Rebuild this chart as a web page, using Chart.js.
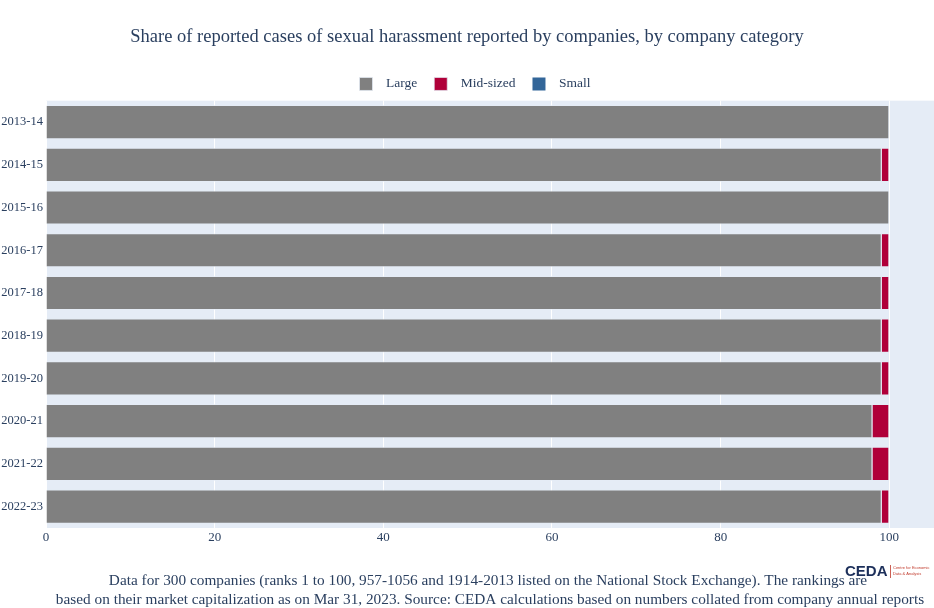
<!DOCTYPE html>
<html>
<head>
<meta charset="utf-8">
<script src="https://cdn.jsdelivr.net/npm/chart.js@4.4.1/dist/chart.umd.min.js"></script>
<style>
html,body{margin:0;padding:0;background:#fff;}
#wrap{position:relative;width:934px;height:608px;}
</style>
</head>
<body>
<div id="wrap"><canvas id="c" width="934" height="608"></canvas></div>
<script>
const categories = ["2013-14","2014-15","2015-16","2016-17","2017-18","2018-19","2019-20","2020-21","2021-22","2022-23"];
const largeShare = [100, 99.1, 100, 99.1, 99.1, 99.1, 99.1, 98.0, 98.0, 99.1];
const midShare   = [0, 0.9, 0, 0.9, 0.9, 0.9, 0.9, 2.0, 2.0, 0.9];
const smallShare = [0, 0, 0, 0, 0, 0, 0, 0, 0, 0];
const xTicks = [0, 20, 40, 60, 80, 100];
const titleText = "Share of reported cases of sexual harassment reported by companies, by company category";
const footerLines = [
  "Data for 300 companies (ranks 1 to 100, 957-1056 and 1914-2013 listed on the National Stock Exchange). The rankings are",
  "based on their market capitalization as on Mar 31, 2023. Source: CEDA calculations based on numbers collated from company annual reports"
];

const FONT = "'Liberation Serif', 'DejaVu Serif', serif";
const TXT = "#2a3f5f";

const bgPlugin = {
  id: 'plotBg',
  beforeDraw(chart) {
    const {ctx, chartArea: a} = chart;
    ctx.save();
    ctx.fillStyle = '#E5ECF6';
    ctx.fillRect(a.left, a.top, a.right - a.left, a.bottom - a.top);
    ctx.restore();
  }
};

const legendShift = {
  id: 'legendShift',
  afterLayout(chart) {
    if (chart.legend) { chart.legend.left += 8; chart.legend.right += 8; }
  }
};

const footerPlugin = {
  id: 'footer',
  afterDraw(chart) {
    const ctx = chart.ctx;
    ctx.save();
    ctx.fillStyle = TXT;
    ctx.font = "15.3px " + FONT;
    ctx.textAlign = 'center';
    ctx.textBaseline = 'middle';
    ctx.fillText(footerLines[0], 488, 581);
    ctx.fillText(footerLines[1], 490, 600);
    // logo
    ctx.textAlign = 'left';
    ctx.font = "bold 15px 'Liberation Sans', Arial, sans-serif";
    ctx.fillStyle = '#1c2f5a';
    ctx.fillText("CEDA", 845, 572);
    ctx.fillStyle = '#c0392b';
    ctx.fillRect(890, 565, 0.8, 13);
    ctx.font = "4px 'Liberation Sans', sans-serif";
    ctx.fillText("Centre for Economic", 893, 568);
    ctx.fillText("Data & Analysis", 893, 574);
    ctx.restore();
  }
};

new Chart(document.getElementById('c'), {
  type: 'bar',
  data: {
    labels: categories,
    datasets: [
      {label: 'Large', data: largeShare, backgroundColor: '#808080', borderColor: 'rgba(229,236,246,0.7)', borderWidth: 1},
      {label: 'Mid-sized', data: midShare, backgroundColor: '#B00039', borderColor: 'rgba(229,236,246,0.7)', borderWidth: 1},
      {label: 'Small', data: smallShare, backgroundColor: '#336699', borderColor: 'rgba(229,236,246,0.7)', borderWidth: 0}
    ]
  },
  plugins: [bgPlugin, legendShift, footerPlugin],
  options: {
    indexAxis: 'y',
    responsive: false,
    animation: false,
    devicePixelRatio: 1,
    layout: {padding: {left: 0, right: 0, top: 0, bottom: 0}},
    datasets: {bar: {categoryPercentage: 1, barPercentage: 0.8}},
    scales: {
      x: {
        stacked: true, min: 0, max: 105.3,
        grid: {color: '#ffffff', lineWidth: 1, drawTicks: false},
        border: {display: false},
        afterBuildTicks(scale) { scale.ticks = xTicks.map(v => ({value: v})); },
        ticks: {color: TXT, font: {family: FONT, size: 13}, padding: 2, maxRotation: 0},
        afterFit(scale) { scale.height = 80; }
      },
      y: {
        stacked: true,
        grid: {display: false, drawTicks: false},
        border: {display: false},
        ticks: {color: TXT, font: {family: FONT, size: 12.5}, padding: 3},
        afterFit(scale) { scale.width = 46; }
      }
    },
    plugins: {
      title: {display: true, text: titleText, color: TXT, font: {family: FONT, size: 18.5, weight: 'normal'}, padding: {top: 26, bottom: 12}},
      legend: {
        display: true, position: 'top',
        labels: {
          color: TXT, font: {family: FONT, size: 13.5}, boxWidth: 13, boxHeight: 13, padding: 17,
          generateLabels(chart) {
            const items = Chart.defaults.plugins.legend.labels.generateLabels(chart);
            items.forEach(it => { it.text = '\u2002' + it.text; });
            return items;
          }
        }
      },
      tooltip: {enabled: false}
    }
  }
});
</script>
</body>
</html>
